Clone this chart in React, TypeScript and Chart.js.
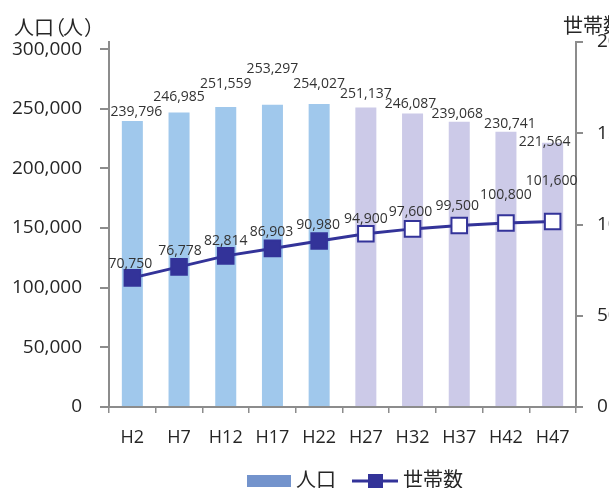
import React, { useEffect, useRef } from "react";
import { Chart, registerables } from "chart.js";

Chart.register(...registerables);

// ---- data ----
const categories = ["H2", "H7", "H12", "H17", "H22", "H27", "H32", "H37", "H42", "H47"];
const population = [239796, 246985, 251559, 253297, 254027, 251137, 246087, 239068, 230741, 221564];
const households = [70750, 76778, 82814, 86903, 90980, 94900, 97600, 99500, 100800, 101600];
const leftTicks = [0, 50000, 100000, 150000, 200000, 250000, 300000];
const rightTicks = [0, 50000, 100000, 150000, 200000];
const actualCount = 5; // H2..H22 actual values, the rest are projections
const leftTitle = "人口（人）";
const rightTitle = "世帯数";
const popLabel = "人口";
const hhLabel = "世帯数";

// ---- label nudges (styling) ----
const barLabelDx = [4, 0, 0, 0, 0, 0, -2, -2, 4, -8];
const barLabelDy = [9, 15, 23, 36, 20, 13, 9, 8, 8, 1];
const lineLabelDx = [-2, 1, 0, -1, -1, 0, -2, -2, 0, -1];
const lineLabelDy = [14, 16, 15, 16, 16, 15, 17, 19, 28, 41];
const leftTitleAdvance = [0, 20, 31, 49, 70]; // tight spacing of the full-width brackets

// ---- style ----
const W = 700;
const H = 488;
const BLUE = "#A0C8EC";
const LAVENDER = "#CCCAE8";
const NAVY = "#333399";
const LEGEND_BLUE = "#7393CC";
const AXIS = "#8C8C8C";
const TEXT = "#262626";
const NUM_FONT = '"Open Sans", "Noto Sans", sans-serif';
const JP_FONT = '"Noto Sans CJK JP", "Noto Sans", sans-serif';

const fmt = (v: number) => v.toLocaleString("en-US");

const decorPlugin = {
  id: "decor",
  afterDatasetsDraw(chart: any) {
    const ctx = chart.ctx;
    ctx.save();
    ctx.fillStyle = "#333333";
    ctx.font = `14px ${NUM_FONT}`;
    ctx.textAlign = "center";
    ctx.textBaseline = "middle";
    const barMeta = chart.getDatasetMeta(1);
    barMeta.data.forEach((el: any, i: number) => {
      ctx.fillText(fmt(population[i]), el.x + barLabelDx[i], el.y - barLabelDy[i]);
    });
    const lineMeta = chart.getDatasetMeta(0);
    lineMeta.data.forEach((el: any, i: number) => {
      ctx.fillText(fmt(households[i]), el.x + lineLabelDx[i], el.y - lineLabelDy[i]);
    });
    ctx.restore();
  },
  afterDraw(chart: any) {
    const ctx = chart.ctx;
    const area = chart.chartArea;
    ctx.save();
    ctx.fillStyle = TEXT;
    ctx.textBaseline = "middle";
    ctx.textAlign = "left";
    ctx.font = `20px ${JP_FONT}`;
    Array.from(leftTitle).forEach((ch, i) => {
      ctx.fillText(ch, 14 + leftTitleAdvance[i], 27);
    });
    ctx.fillText(rightTitle, area.right - 13, 25);

    // legend
    const ly = 481;
    ctx.fillStyle = LEGEND_BLUE;
    ctx.fillRect(247, ly - 6, 44, 12);
    ctx.fillStyle = TEXT;
    ctx.fillText(popLabel, 296, ly - 2);
    ctx.strokeStyle = NAVY;
    ctx.lineWidth = 3;
    ctx.beginPath();
    ctx.moveTo(352, ly);
    ctx.lineTo(398, ly);
    ctx.stroke();
    ctx.fillStyle = NAVY;
    ctx.fillRect(368, ly - 7, 15, 15);
    ctx.fillStyle = TEXT;
    ctx.fillText(hhLabel, 403, ly - 2);
    ctx.restore();
  },
};

export default function App() {
  const ref = useRef<HTMLCanvasElement | null>(null);

  useEffect(() => {
    if (!ref.current) return;
    const chart = new Chart(ref.current, {
      type: "bar",
      data: {
        labels: categories,
        datasets: [
          {
            type: "line",
            label: hhLabel,
            data: households,
            yAxisID: "y1",
            order: 0,
            borderColor: NAVY,
            borderWidth: 3,
            pointStyle: "rect",
            pointRadius: 11,
            pointBorderWidth: 2,
            pointBorderColor: NAVY,
            pointBackgroundColor: households.map((_, i) => (i < actualCount ? NAVY : "#FFFFFF")),
            tension: 0,
          } as any,
          {
            type: "bar",
            label: popLabel,
            data: population,
            yAxisID: "y",
            order: 1,
            backgroundColor: population.map((_, i) => (i < actualCount ? BLUE : LAVENDER)),
            categoryPercentage: 1,
            barPercentage: 0.45,
          } as any,
        ],
      },
      options: {
        responsive: false,
        animation: false,
        layout: { padding: { top: 42, left: 0, right: 0, bottom: 0 } },
        plugins: {
          legend: { display: false },
          tooltip: { enabled: false },
          title: { display: false },
        },
        scales: {
          x: {
            grid: { drawOnChartArea: false, drawTicks: true, tickLength: 6, color: AXIS, lineWidth: 1.5 },
            border: { color: AXIS, width: 2 },
            ticks: { color: TEXT, font: { size: 18, family: NUM_FONT }, padding: 14 },
            afterFit: (s: any) => {
              s.height = 81;
            },
          },
          y: {
            position: "left",
            min: 0,
            max: 306000,
            afterBuildTicks: (s: any) => {
              s.ticks = leftTicks.map((v) => ({ value: v }));
            },
            grid: { drawOnChartArea: false, drawTicks: true, tickLength: 9, color: AXIS, lineWidth: 2 },
            border: { color: AXIS, width: 2 },
            ticks: {
              color: TEXT,
              font: { size: 19, family: NUM_FONT },
              padding: 18,
              callback: (v: any) => fmt(Number(v)),
            },
            afterFit: (s: any) => {
              s.width = 109;
            },
          },
          y1: {
            position: "right",
            min: 0,
            max: 200000,
            afterBuildTicks: (s: any) => {
              s.ticks = rightTicks.map((v) => ({ value: v }));
            },
            grid: { drawOnChartArea: false, drawTicks: true, tickLength: 7, color: AXIS, lineWidth: 2 },
            border: { color: AXIS, width: 2 },
            ticks: {
              color: TEXT,
              font: { size: 19, family: NUM_FONT },
              padding: 14,
              callback: (v: any) => fmt(Number(v)),
            },
            afterFit: (s: any) => {
              s.width = W - 576;
            },
          },
        },
      },
      plugins: [decorPlugin],
    });
    return () => chart.destroy();
  }, []);

  return (
    <div
      style={{
        position: "absolute",
        left: 0,
        top: 0,
        width: 609,
        height: 488,
        overflow: "hidden",
        background: "#FFFFFF",
      }}
    >
      <canvas ref={ref} width={W} height={H} style={{ display: "block", width: W, height: H }} />
    </div>
  );
}
